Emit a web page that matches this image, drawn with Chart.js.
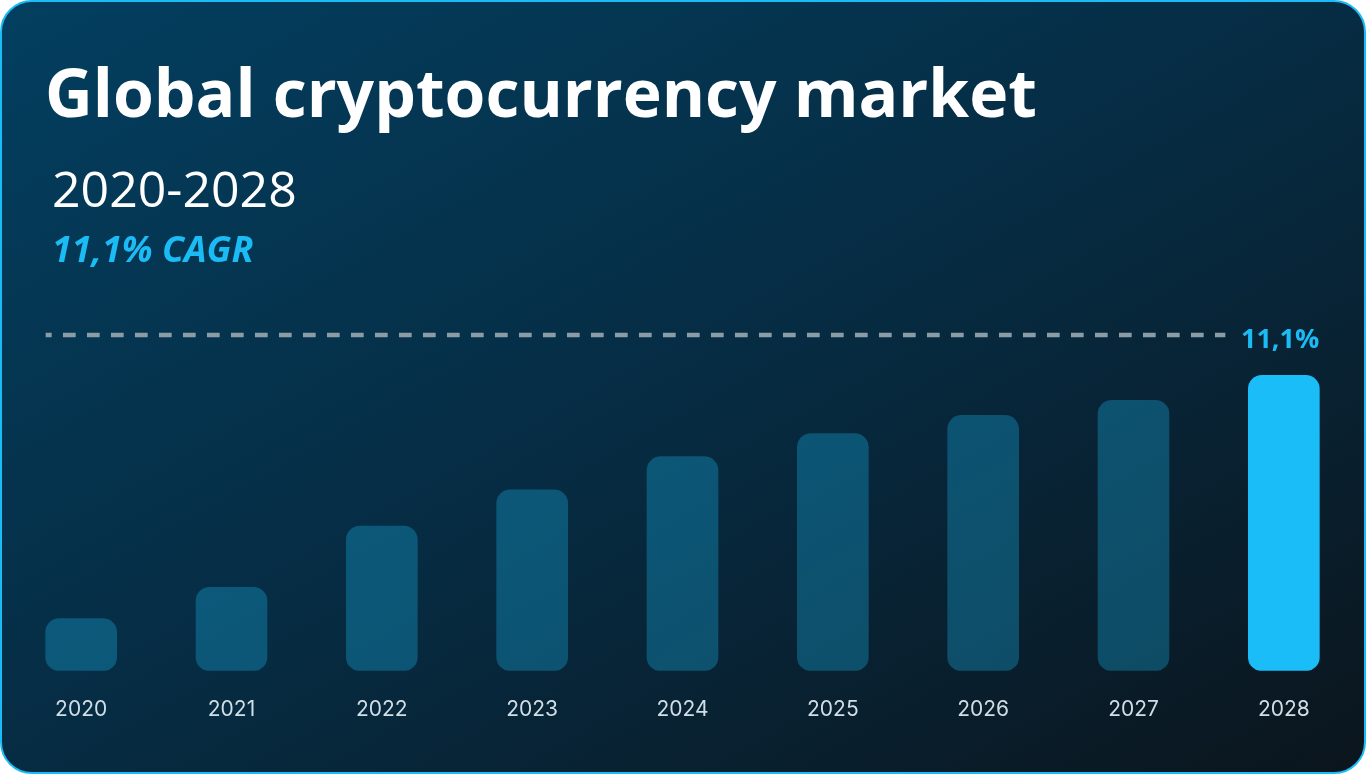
<!DOCTYPE html>
<html>
<head>
<meta charset="utf-8">
<script src="https://cdn.jsdelivr.net/npm/chart.js@4.4.1/dist/chart.umd.min.js"></script>
<style>
  html, body { margin: 0; padding: 0; background: #ffffff; width: 1366px; height: 775px; overflow: hidden; }
  #card {
    position: absolute; left: 0; top: 0; width: 1366px; height: 774px; box-sizing: border-box;
    border: 2px solid #1bbcf5; border-radius: 32px;
    background: linear-gradient(to bottom right, #033f60 0%, #062c43 50%, #0b151d 100%);
    overflow: hidden;
  }
  .txt { position: absolute; font-family: "Open Sans", sans-serif; line-height: 1; white-space: nowrap; }
  #title { left: 45px; top: 58px; font-size: 66px; font-weight: 700; color: #ffffff; }
  #sub { left: 52px; top: 163px; font-size: 50px; font-weight: 400; color: #ffffff; }
  #cagr { left: 52px; top: 231px; font-size: 36px; font-weight: 700; font-style: italic; color: #1bbcf5; }
  #wrap { position: absolute; left: 0; top: 0; width: 1366px; height: 775px; }
</style>
</head>
<body>
<div id="card"></div>
<div id="wrap"><canvas id="c" width="1366" height="775"></canvas></div>
<div class="txt" id="title">Global cryptocurrency market</div>
<div class="txt" id="sub">2020-2028</div>
<div class="txt" id="cagr">11,1% CAGR</div>
<script>
const titleText = "Global cryptocurrency market";
const subtitleText = "2020-2028";
const cagrText = "11,1% CAGR";
const referenceLabel = "11,1%";
const years = ["2020", "2021", "2022", "2023", "2024", "2025", "2026", "2027", "2028"];
const marketValues = [52, 83, 144, 180, 213, 236, 254, 269, 294];
const referenceLine = 334;

const barColors = years.map((y, i) => i === years.length - 1 ? "#1bbdf8" : "rgba(27,188,245,0.30)");

const refLinePlugin = {
  id: "refLine",
  afterDatasetsDraw(chart) {
    const ctx = chart.ctx;
    const yScale = chart.scales.y;
    const meta = chart.getDatasetMeta(0);
    const first = meta.data[0];
    const last = meta.data[meta.data.length - 1];
    const y = yScale.getPixelForValue(referenceLine);
    const x0 = first.x - first.width / 2;
    const x1 = last.x - last.width / 2 - 23;
    ctx.save();
    ctx.strokeStyle = "#8a9ca6";
    ctx.lineWidth = 4.5;
    ctx.lineCap = "butt";
    ctx.setLineDash([12.7, 11.3]);
    ctx.lineDashOffset = 6.7;
    ctx.beginPath();
    ctx.moveTo(x0, y);
    ctx.lineTo(x1, y);
    ctx.stroke();
    ctx.setLineDash([]);
    ctx.fillStyle = "#1bbcf5";
    ctx.font = "700 27px 'Open Sans', sans-serif";
    ctx.textAlign = "right";
    ctx.textBaseline = "alphabetic";
    ctx.fillText(referenceLabel, last.x + last.width / 2, y + 13);
    ctx.restore();
  }
};

new Chart(document.getElementById("c"), {
  type: "bar",
  data: {
    labels: years,
    datasets: [{
      data: marketValues,
      backgroundColor: barColors,
      borderRadius: 14,
      borderSkipped: false,
      barThickness: 71
    }]
  },
  options: {
    responsive: false,
    animation: false,
    devicePixelRatio: 1,
    layout: { padding: { left: 6, right: 7, top: 335, bottom: 27 } },
    plugins: { legend: { display: false }, tooltip: { enabled: false } },
    scales: {
      x: {
        grid: { display: false, drawTicks: false },
        border: { display: false },
        ticks: { color: "#d0dee7", font: { family: "Inter", size: 21 }, padding: 26 }
      },
      y: { display: false, min: 0, max: referenceLine }
    }
  },
  plugins: [refLinePlugin]
});
</script>
</body>
</html>
